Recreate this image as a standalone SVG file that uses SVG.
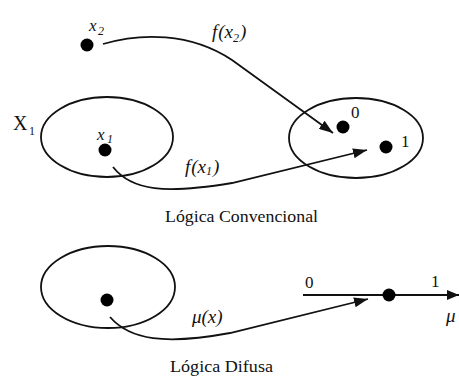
<svg xmlns="http://www.w3.org/2000/svg" width="459" height="376" viewBox="0 0 459 376">
<style>
.ln{fill:none;stroke:#111;stroke-width:1.8}
.el{fill:none;stroke:#111;stroke-width:1.8}
.dot{fill:#000}
.t{font-family:'Liberation Serif','DejaVu Serif','Times New Roman',serif;fill:#111}
.i{font-style:italic}
</style>
<defs>
<marker id="ah" viewBox="0 0 14 10" refX="14" refY="5" markerWidth="14" markerHeight="10" markerUnits="userSpaceOnUse" orient="auto">
<path d="M0,0 L14,5 L0,10 z" fill="#111"/>
</marker>
<marker id="ah2" viewBox="0 0 12 10" refX="12" refY="5" markerWidth="12" markerHeight="10" markerUnits="userSpaceOnUse" orient="auto">
<path d="M0,0 L12,5 L0,10 z" fill="#111"/>
</marker>
</defs>
<rect width="459" height="376" fill="#fff"/>

<g id="set-x1">
<ellipse class="el" cx="107" cy="137" rx="66" ry="40"/>
<text class="t" x="13" y="130" font-size="20">X</text>
<text class="t" x="29" y="135" font-size="12">1</text>
</g>
<g id="point-x2">
<circle class="dot" cx="87" cy="45" r="6.5"/>
<text class="t i" x="89" y="31" font-size="17">x</text>
<text class="t i" x="98" y="35" font-size="12">2</text>
</g>
<g id="point-x1">
<circle class="dot" cx="105" cy="150" r="6.5"/>
<text class="t i" x="97" y="140" font-size="17">x</text>
<text class="t i" x="107" y="143" font-size="12">1</text>
</g>
<g id="set-01">
<ellipse class="el" cx="356" cy="138" rx="67" ry="40"/>
<circle class="dot" cx="343" cy="127" r="6.5"/>
<text class="t" x="351" y="118" font-size="17">0</text>
<circle class="dot" cx="386" cy="147" r="6.5"/>
<text class="t" x="401" y="147" font-size="17">1</text>
</g>
<g id="label-conv">
<text class="t" x="165" y="222" font-size="17" textLength="153" lengthAdjust="spacingAndGlyphs">Lógica Convencional</text>
</g>
<g id="set-fuzzy">
<ellipse class="el" cx="108" cy="287" rx="67" ry="41"/>
<circle class="dot" cx="107" cy="300" r="6.5"/>
</g>
<g id="axis">
<line class="ln" x1="303" y1="295" x2="459" y2="295" marker-end="url(#ah2)"/>
<circle class="dot" cx="389" cy="295" r="6.5"/>
<text class="t" x="305" y="288" font-size="17">0</text>
<text class="t" x="431" y="287" font-size="17">1</text>
<text class="t i" x="446" y="322" font-size="19">μ</text>
</g>
<g id="label-fuzzy">
<text class="t" x="170" y="372" font-size="17" textLength="103" lengthAdjust="spacingAndGlyphs">Lógica Difusa</text>
</g>

<g id="connectors">
<path class="ln" d="M103,44 C140,33 190,32 232,60 L333,133" marker-end="url(#ah)"/>
<path class="ln" d="M113,167 C132,191 165,194 232,183 L367,150" marker-end="url(#ah)"/>
<path class="ln" d="M110,317 C130,340 165,345 230,333 L368,299" marker-end="url(#ah)"/>
</g>
<g id="connector-labels">
<text class="t i" x="212" y="38" font-size="19">f<tspan dx="1">(x</tspan><tspan font-size="12" dy="4">2</tspan><tspan dy="-4" dx="1">)</tspan></text>
<text class="t i" x="185" y="173" font-size="19">f<tspan dx="1">(x</tspan><tspan font-size="12" dy="2">1</tspan><tspan dy="-2" dx="1">)</tspan></text>
<text class="t i" x="192" y="323" font-size="19">μ<tspan dx="0">(x)</tspan></text>
</g>
</svg>
